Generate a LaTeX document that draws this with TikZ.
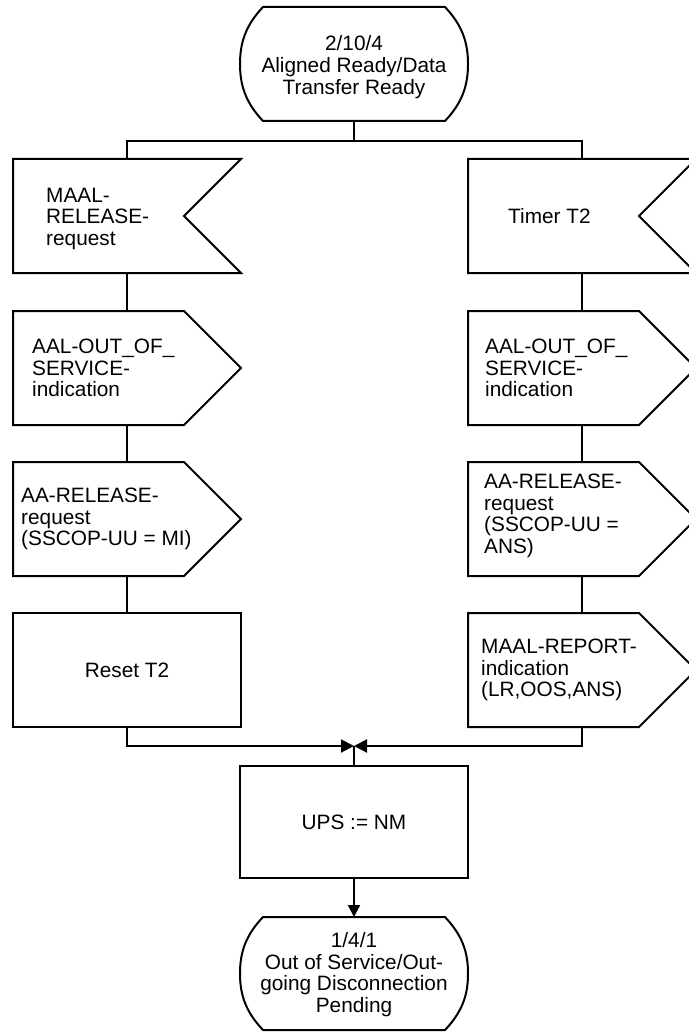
\documentclass[tikz,border=0pt]{standalone}
\usepackage{fontspec}
\setmainfont{Liberation Sans}
\usetikzlibrary{calc,arrows.meta}
\newcommand\fs{\fontsize{20.8}{21.7}\selectfont}
\tikzset{
  base/.style={minimum width=228pt, minimum height=114pt, inner sep=0pt, outer sep=0pt},
  txt/.style={font=\fs, align=left, inner sep=0pt, anchor=west},
  ctxt/.style={font=\fs, align=center, inner sep=0pt},
  ln/.style={line width=2pt, line join=miter},
  arr/.style={ln, -{Triangle[length=13pt,width=13pt]}}
}
\newcommand\inputsig[1]{\draw[ln] (#1.north west) -- (#1.north east) -- ($(#1.east)+(-57,0)$) -- (#1.south east) -- (#1.south west) -- cycle;}
\newcommand\outputsig[1]{\draw[ln] (#1.north west) -- ($(#1.north east)+(-57,0)$) -- (#1.east) -- ($(#1.south east)+(-57,0)$) -- (#1.south west) -- cycle;}
\newcommand\stateshape[1]{\draw[ln] ($(#1.north west)+(23,0)$) -- ($(#1.north east)+(-23,0)$)
  .. controls ($(#1.north east)+(-6,18)$) and ($(#1.east)+(0,-22)$) .. (#1.east)
  .. controls ($(#1.east)+(0,22)$) and ($(#1.south east)+(-6,-18)$) .. ($(#1.south east)+(-23,0)$)
  -- ($(#1.south west)+(23,0)$)
  .. controls ($(#1.south west)+(6,-18)$) and ($(#1.west)+(0,22)$) .. (#1.west)
  .. controls ($(#1.west)+(0,-22)$) and ($(#1.north west)+(6,18)$) .. cycle;}
\begin{document}
\begin{tikzpicture}[x=1pt,y=-1pt]
\useasboundingbox (0,0) rectangle (688,1032);
% shapes
\node[base] (s0) at (354,64) {};
\stateshape{s0}
\node[base] (l1) at (127,216) {}; \inputsig{l1}
\node[base] (l2) at (127,368) {}; \outputsig{l2}
\node[base] (l3) at (127,519) {}; \outputsig{l3}
\node[base,draw,ln,ctxt] (l4) at (127,670) {Reset T2};
\node[base] (r1) at (582,216) {}; \inputsig{r1}
\node[base] (r2) at (582,368) {}; \outputsig{r2}
\node[base] (r3) at (582,519) {}; \outputsig{r3}
\node[base] (r4) at (582,670) {}; \outputsig{r4}
\node[base,draw,ln,ctxt,minimum height=112pt] (p) at (354,822) {UPS := NM};
\node[base,minimum height=113pt] (s1) at (354,973.5) {};
\stateshape{s1}
% texts
\node[ctxt] (s0t) at ($(s0.center)+(0,3)$) {2/10/4\\Aligned Ready/Data\\Transfer Ready};
\node[ctxt] (s1t) at ($(s1.center)+(0,1)$) {1/4/1\\Out of Service/Out-\\going Disconnection\\Pending};
\node[txt] (l1t) at ($(l1.west)+(33,3)$) {MAAL-\\RELEASE-\\request};
\node[txt] (l2t) at ($(l2.west)+(19,0)$) {AAL-OUT\_OF\_\\SERVICE-\\indication};
\node[txt] (l3t) at ($(l3.west)+(8,0)$) {AA-RELEASE-\\request\\(SSCOP-UU = MI)};
\node[txt] (r1t) at ($(r1.west)+(40,0)$) {Timer T2};
\node[txt] (r2t) at ($(r2.west)+(17,0)$) {AAL-OUT\_OF\_\\SERVICE-\\indication};
\node[txt] (r3t) at ($(r3.west)+(16,-3)$) {AA-RELEASE-\\request\\(SSCOP-UU =\\ANS)};
\node[txt] (r4t) at ($(r4.west)+(13,0)$) {MAAL-REPORT-\\indication\\(LR,OOS,ANS)};
% connectors
\coordinate (j0) at (354,141);
\coordinate (m) at (354,746);
\draw[ln] (s0.south) -- (j0);
\draw[ln] (l1.north) |- (j0) -| (r1.north);
\draw[ln] (l1.south) -- (l2.north);
\draw[ln] (l2.south) -- (l3.north);
\draw[ln] (l3.south) -- (l4.north);
\draw[ln] (r1.south) -- (r2.north);
\draw[ln] (r2.south) -- (r3.north);
\draw[ln] (r3.south) -- (r4.north);
\draw[arr] (l4.south) |- (m);
\draw[arr] (r4.south) |- (m);
\draw[ln] (p.north) -- (m);
\draw[ln,-{Triangle[length=12pt,width=12pt]}] (p.south) -- (s1.north);
\end{tikzpicture}
\end{document}
